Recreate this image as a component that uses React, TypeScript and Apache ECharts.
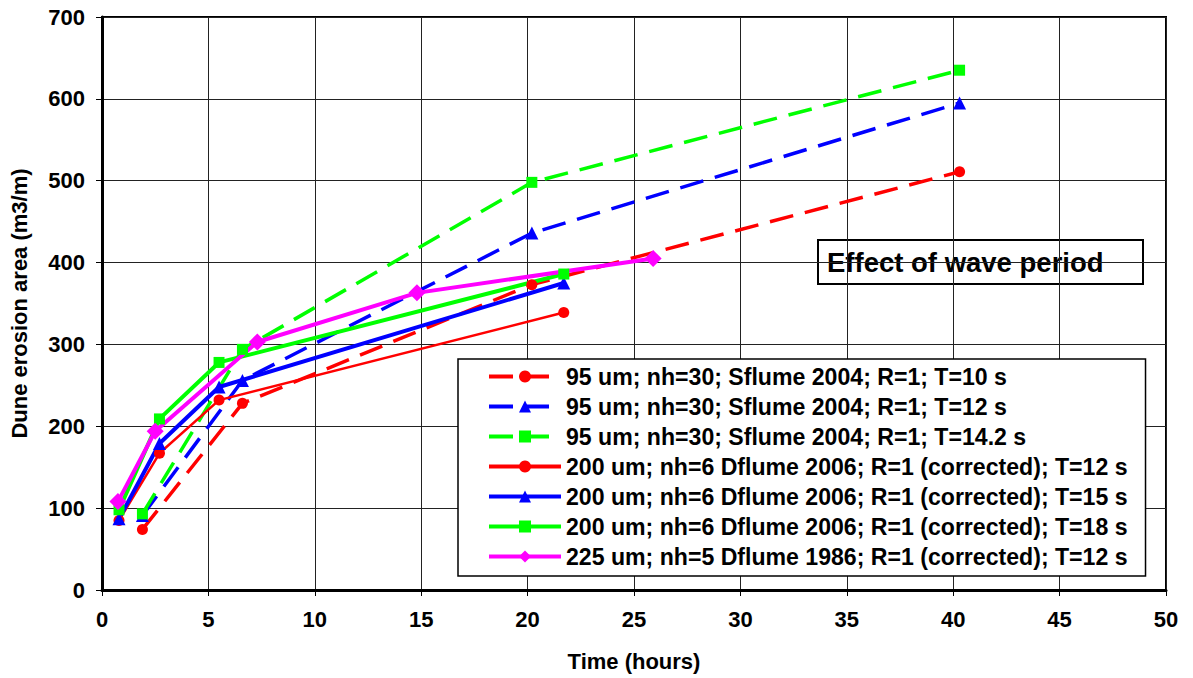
import React, { useEffect, useRef } from "react";
import * as echarts from "echarts";

// Measurement times (hours)
const timeSflume = [1.9, 6.6, 20.2, 40.3];
const timeDflume2006 = [0.8, 2.7, 5.5, 21.7];
const timeDflume1986 = [0.75, 2.5, 7.3, 14.8, 25.9];

// Dune erosion area (m3/m)
const sflumeT10 = [74, 228, 373, 511];
const sflumeT12 = [91, 256, 436, 595];
const sflumeT142 = [93, 294, 498, 635];
const dflumeT12 = [85, 167, 232, 339];
const dflumeT15 = [87, 179, 248, 375];
const dflumeT18 = [98, 209, 278, 386];
const dflume1986T12 = [108, 194, 303, 363, 405];

const seriesNames = [
  "95 um; nh=30; Sflume 2004; R=1; T=10 s",
  "95 um; nh=30; Sflume 2004; R=1; T=12 s",
  "95 um; nh=30; Sflume 2004; R=1; T=14.2 s",
  "200 um; nh=6 Dflume 2006; R=1 (corrected); T=12 s",
  "200 um; nh=6 Dflume 2006; R=1 (corrected); T=15 s",
  "200 um; nh=6 Dflume 2006; R=1 (corrected); T=18 s",
  "225 um; nh=5 Dflume 1986; R=1 (corrected); T=12 s",
];

const xTicks = [0, 50, 5];
const yTicks = [0, 700, 100];

const FONT = "'Liberation Sans', Arial, sans-serif";
const DASH = [24, 12];

const pairs = (xs: number[], ys: number[]) => xs.map((x, i) => [x, ys[i]]);

export default function App() {
  const ref = useRef<HTMLDivElement>(null);

  useEffect(() => {
    if (!ref.current) return;
    const chart = echarts.init(ref.current, null, { renderer: "svg" });

    const dashedLine = (name: string, color: string, symbol: string, size: number, xs: number[], ys: number[]) => ({
      name,
      type: "line",
      data: pairs(xs, ys),
      symbol,
      symbolSize: size,
      itemStyle: { color },
      lineStyle: { color, width: 3.5, type: DASH },
    });
    const solidLine = (name: string, color: string, symbol: string, size: number, width: number, xs: number[], ys: number[]) => ({
      name,
      type: "line",
      data: pairs(xs, ys),
      symbol,
      symbolSize: size,
      itemStyle: { color },
      lineStyle: { color, width, type: "solid" },
    });

    const legendDash = [24, 14, 22, 100];

    chart.setOption({
      animation: false,
      backgroundColor: "#fff",
      grid: {
        left: 102,
        right: 27,
        top: 17,
        bottom: 88,
        show: true,
        borderColor: "#000",
        borderWidth: 2,
        backgroundColor: "transparent",
      },
      xAxis: {
        type: "value",
        min: xTicks[0],
        max: xTicks[1],
        interval: xTicks[2],
        name: "Time (hours)",
        nameLocation: "middle",
        nameGap: 60,
        nameTextStyle: { fontFamily: FONT, fontWeight: "bold", fontSize: 22, color: "#000" },
        axisLine: { show: true, lineStyle: { color: "#000", width: 3 } },
        axisTick: { show: true, inside: false, length: 6, lineStyle: { color: "#000", width: 1 } },
        axisLabel: { fontFamily: FONT, fontWeight: "bold", fontSize: 22, color: "#000", margin: 18 },
        splitLine: { show: true, lineStyle: { color: "#222", width: 1 } },
      },
      yAxis: {
        type: "value",
        min: yTicks[0],
        max: yTicks[1],
        interval: yTicks[2],
        name: "Dune erosion area (m3/m)",
        nameLocation: "middle",
        nameRotate: 90,
        nameGap: 72,
        nameTextStyle: { fontFamily: FONT, fontWeight: "bold", fontSize: 22, color: "#000" },
        axisLine: { show: true, lineStyle: { color: "#000", width: 3 } },
        axisTick: { show: true, inside: false, length: 6, lineStyle: { color: "#000", width: 1 } },
        axisLabel: { fontFamily: FONT, fontWeight: "bold", fontSize: 22, color: "#000", margin: 17 },
        splitLine: { show: true, lineStyle: { color: "#222", width: 1 } },
      },
      legend: {
        orient: "vertical",
        left: 458,
        top: 359,
        padding: [6, 18, 8, 29],
        itemGap: 7,
        itemWidth: 72,
        itemHeight: 15,
        backgroundColor: "#fff",
        borderColor: "#000",
        borderWidth: 1.5,
        borderRadius: 0,
        selectedMode: false,
        lineStyle: { width: 4 },
        textStyle: { fontFamily: FONT, fontWeight: "bold", fontSize: 23.1, color: "#000" },
        data: [
          { name: seriesNames[0], lineStyle: { type: legendDash, width: 4 } },
          { name: seriesNames[1], lineStyle: { type: legendDash, width: 4 } },
          { name: seriesNames[2], lineStyle: { type: legendDash, width: 4 } },
          { name: seriesNames[3] },
          { name: seriesNames[4] },
          { name: seriesNames[5] },
          { name: seriesNames[6] },
        ],
      },
      graphic: [
        {
          type: "group",
          left: 817,
          top: 239,
          z: 100,
          children: [
            {
              type: "rect",
              shape: { x: 0, y: 0, width: 325, height: 44 },
              style: { fill: "#fff", stroke: "#000", lineWidth: 2 },
            },
            {
              type: "text",
              x: 9,
              y: 22,
              style: {
                text: "Effect of wave period",
                font: `bold 27.5px ${FONT}`,
                fill: "#000",
                verticalAlign: "middle",
              },
            },
          ],
        },
      ],
      series: [
        dashedLine(seriesNames[0], "#ff0000", "circle", 11, timeSflume, sflumeT10),
        dashedLine(seriesNames[1], "#0000ff", "triangle", 13, timeSflume, sflumeT12),
        dashedLine(seriesNames[2], "#00ff00", "rect", 11, timeSflume, sflumeT142),
        solidLine(seriesNames[3], "#ff0000", "circle", 11, 2.5, timeDflume2006, dflumeT12),
        solidLine(seriesNames[4], "#0000ff", "triangle", 13, 4, timeDflume2006, dflumeT15),
        solidLine(seriesNames[5], "#00ff00", "rect", 11, 4, timeDflume2006, dflumeT18),
        solidLine(seriesNames[6], "#ff00ff", "diamond", 17, 4, timeDflume1986, dflume1986T12),
      ],
    });

    return () => chart.dispose();
  }, []);

  return (
    <div
      ref={ref}
      style={{ position: "fixed", left: 0, top: 0, width: 1193, height: 678, background: "#fff" }}
    />
  );
}
